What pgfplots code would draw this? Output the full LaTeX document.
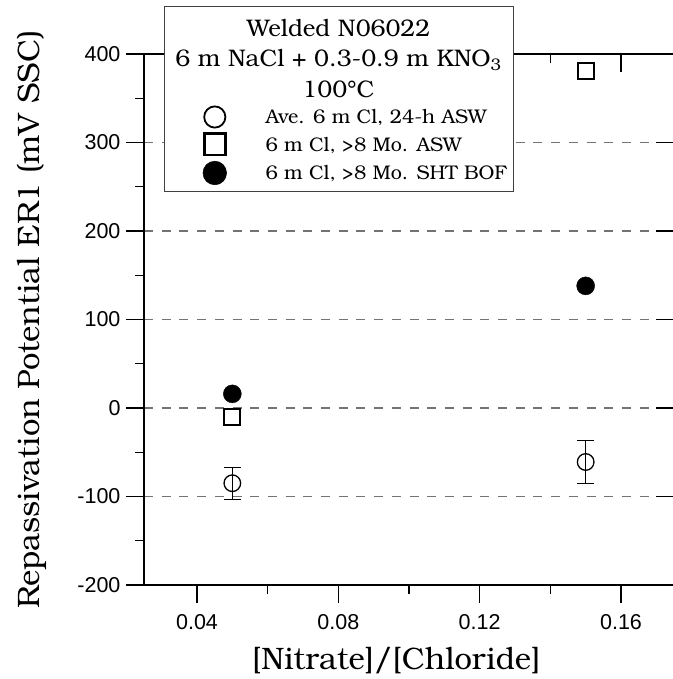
\documentclass[border=0pt]{standalone}
\usepackage{fontspec}
\setmainfont{texgyrebonum}[Extension=.otf,UprightFont=*-regular,BoldFont=*-bold,ItalicFont=*-italic,BoldItalicFont=*-bolditalic]
\newfontfamily\tickfont{Liberation Sans}
\usepackage{pgfplots}
\pgfplotsset{compat=1.18}
\pgfplotsset{dotlegend/.style={legend image code/.code={\draw[##1] plot coordinates {(0pt,0pt)};}}}
\begin{document}
\begin{tikzpicture}
\begin{axis}[
  name=ax,
  scale only axis, width=530pt, height=531pt,
  xmin=0.025, xmax=0.175, ymin=-200, ymax=400,
  axis x line*=bottom, axis y line*=left,
  axis line style={line width=1.2pt, black},
  tick align=outside,
  major tick length=18pt, minor tick length=9pt,
  tick style={black, line width=1.1pt},
  xtick={0.04,0.08,0.12,0.16}, xticklabels={0.04,0.08,0.12,0.16},
  minor xtick={0.06,0.10,0.14},
  ytick={-200,-100,0,100,200,300,400}, yticklabels={-200,-100,0,100,200,300,400},
  minor ytick={-150,-50,50,150,250,350},
  ymajorgrids,
  major grid style={black!55, line width=1.2pt, dash pattern=on 9pt off 8.7pt},
  ticklabel style={font=\fontsize{21.5}{25}\selectfont\tickfont},
  xticklabel style={yshift=-8pt},
  yticklabel style={xshift=-2pt},
  xlabel={\relax[Nitrate]/[Chloride]},
  ylabel={Repassivation Potential ER1 (mV SSC)},
  label style={font=\fontsize{31}{36}\selectfont},
  xlabel style={at={(axis description cs:0.476,-0.1582)}, anchor=base},
  ylabel style={at={(axis description cs:-0.19623,0.5)}, anchor=base},
  clip=false,
]
\addplot[only marks, mark=o, mark size=8.3pt, black, line width=1.3pt,
  error bars/.cd, y dir=both, y explicit,
  error bar style={black, line width=1.2pt},
  error mark options={black, line width=1.2pt, mark size=8.5pt, rotate=90}]
  coordinates {(0.05,-85) +- (0,18) (0.15,-61) +- (0,24)};
\addplot[only marks, mark=square, mark size=8pt, black, line width=2pt]
  coordinates {(0.05,-10) (0.15,381)};
\addplot[only marks, mark=*, mark size=9pt, black, mark options={fill=black}]
  coordinates {(0.05,16) (0.15,138)};
\end{axis}
\begin{axis}[
  scale only axis, width=530pt, height=531pt,
  xmin=0.025, xmax=0.175, ymin=-200, ymax=400,
  axis x line*=top, axis y line*=right,
  axis line style={line width=1.2pt, black},
  tick align=inside, major tick length=18pt, minor tick length=9pt,
  tick style={black, line width=1.1pt},
  xtick={0.04,0.08,0.12,0.16}, minor xtick={0.06,0.10,0.14},
  ytick={-200,-100,0,100,200,300,400},
  xticklabels={}, yticklabels={},
  clip=false,
  legend cell align=left,
  legend style={at={(0.11132,0.90132)}, anchor=north west, draw=none, fill=none,
    inner sep=0pt, outer sep=0pt, row sep=6.2pt, column sep=39pt,
    nodes={inner sep=0pt, text height=14pt, text depth=0pt, font=\fontsize{19.75}{23}\selectfont}},
]
\node[draw=black!75, line width=1pt, fill=white, anchor=north west,
  minimum width=349pt, minimum height=185pt, inner sep=0pt] at (rel axis cs:0.03774,1.09040) {};
\node[anchor=base, font=\fontsize{24}{28}\selectfont, inner sep=0pt] at (rel axis cs:0.36698,1.03296) {Welded N06022};
\node[anchor=base, font=\fontsize{24}{28}\selectfont, inner sep=0pt] at (rel axis cs:0.36698,0.97552) {6 m NaCl + 0.3-0.9 m KNO\textsubscript{3}};
\node[anchor=base, font=\fontsize{24}{28}\selectfont, inner sep=0pt] at (rel axis cs:0.36698,0.91808) {100°C};
\addlegendimage{only marks, mark=o, mark size=10.6pt, line width=1.8pt, black, dotlegend}
\addlegendentry{Ave. 6 m Cl, 24-h ASW}
\addlegendimage{only marks, mark=square, mark size=10.6pt, line width=2.8pt, black, dotlegend}
\addlegendentry{6 m Cl, >8 Mo. ASW}
\addlegendimage{only marks, mark=*, mark size=11.8pt, line width=0.5pt, black, mark options={fill=black}, dotlegend}
\addlegendentry{6 m Cl, >8 Mo. SHT BOF}
\end{axis}
\pgfresetboundingbox
\path[use as bounding box] ([xshift=-144pt,yshift=-94pt]ax.south west) rectangle ([xshift=-1pt,yshift=54pt]ax.north east);
\end{tikzpicture}
\end{document}
